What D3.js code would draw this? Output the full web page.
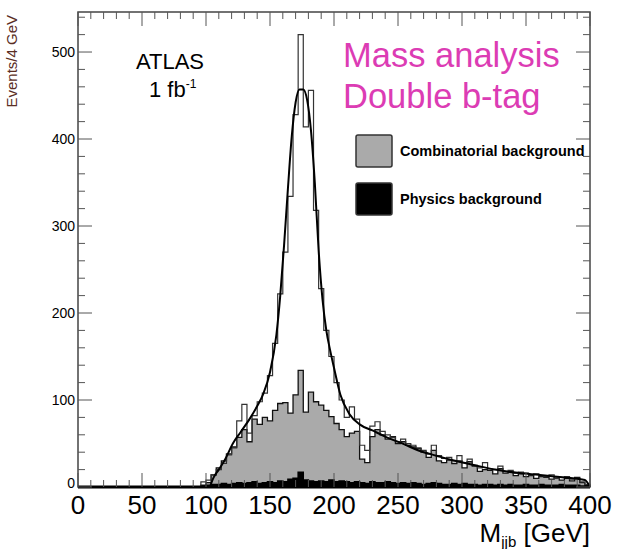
<!DOCTYPE html>
<html>
<head>
<meta charset="utf-8">
<script src="https://cdn.jsdelivr.net/npm/d3@7"></script>
<style>
  body { margin: 0; background: #fff; }
  svg { display: block; font-family: "Liberation Sans", Arial, sans-serif; }
</style>
</head>
<body>
<div class="wrapper"></div>
<script>
const width = 619;
const height = 549;

// bin lower edges (GeV), 4 GeV wide
const binEdges = d3.range(96, 400, 4);

// open histogram: signal + background
const totalCounts = [
  6, 8, 14, 20, 27, 37, 45, 76, 95, 62,
  82, 98, 108, 128, 165, 222, 270, 334, 428, 520,
  414, 456, 318, 228, 180, 150, 120, 100, 80, 92,
  78, 48, 42, 70, 75, 64, 60, 57, 52, 55,
  50, 48, 45, 42, 38, 48, 36, 33, 34, 30,
  36, 28, 32, 25, 22, 28, 21, 20, 24, 18,
  19, 16, 17, 16, 14, 15, 13, 12, 14, 10,
  11, 12, 9, 10, 6, 3
];

// grey filled: combinatorial background
const combCounts = [
  2, 5, 14, 22, 30, 38, 46, 57, 66, 52,
  78, 72, 80, 76, 88, 96, 97, 85, 106, 134,
  86, 109, 98, 94, 88, 81, 73, 66, 58, 62,
  64, 32, 28, 58, 66, 60, 55, 58, 50, 52,
  48, 46, 44, 40, 34, 42, 30, 28, 31, 27,
  30, 22, 29, 24, 18, 20, 19, 15, 21, 16,
  17, 13, 15, 12, 13, 10, 12, 11, 9, 12,
  8, 10, 7, 11, 5, 2
];

// black filled: physics background
const physCounts = [
  0, 2, 3, 3, 4, 3, 4, 5, 4, 5,
  6, 4, 5, 6, 5, 7, 6, 9, 10, 17,
  8, 7, 6, 7, 6, 8, 6, 7, 6, 5,
  6, 5, 4, 6, 5, 5, 6, 5, 4, 5,
  4, 5, 4, 3, 4, 5, 4, 3, 3, 4,
  3, 4, 3, 3, 2, 3, 3, 2, 3, 2,
  3, 2, 2, 3, 2, 2, 3, 2, 2, 2,
  3, 2, 2, 2, 1, 1
];

// fit curve
const fitMass = [103, 106, 110, 115, 121, 127, 134, 140, 145, 150, 155, 158, 161, 164, 167, 170, 173, 176, 179, 182, 185, 188, 191, 194, 197, 200, 205, 212, 220, 230, 240, 255, 266, 280, 292, 310, 326, 345, 360, 380, 396, 400];
const fitValue = [0, 11, 20, 32, 50, 63, 78, 93, 108, 132, 175, 220, 278, 343, 403, 442, 457, 457, 445, 410, 350, 272, 216, 180, 157, 137, 106, 84, 72, 65, 58, 49, 42, 36, 31, 25, 20, 16, 14, 11, 8, 0];

const xMajor = [0, 50, 100, 150, 200, 250, 300, 350, 400];
const yMajor = [0, 100, 200, 300, 400, 500];

const plotLeft = 78, plotRight = 590, plotTop = 12, plotBottom = 487;

const x = d3.scaleLinear().domain([0, 400]).range([plotLeft, plotRight]);
const y = d3.scaleLinear().domain([0, 546]).range([plotBottom, plotTop]);

const svg = d3.select(".wrapper")
  .append("svg")
  .attr("width", width)
  .attr("height", height);

// step path for a histogram
const histArea = (counts) => {
  const pts = [];
  pts.push([x(binEdges[0]), y(0)]);
  counts.forEach((c, i) => {
    pts.push([x(binEdges[i]), y(c)]);
    pts.push([x(binEdges[i] + 4), y(c)]);
  });
  pts.push([x(binEdges[binEdges.length - 1] + 4), y(0)]);
  return d3.line()(pts);
};

svg.append("path")
  .attr("d", histArea(combCounts))
  .attr("fill", "#aaaaaa")
  .attr("stroke", "#111")
  .attr("stroke-width", 1.3);

svg.append("path")
  .attr("d", histArea(totalCounts))
  .attr("fill", "none")
  .attr("stroke", "#333")
  .attr("stroke-width", 1.2);

svg.append("path")
  .attr("d", histArea(physCounts))
  .attr("fill", "#000")
  .attr("stroke", "#000")
  .attr("stroke-width", 1.5);

// fit line
svg.append("path")
  .datum(fitMass.map((m, i) => [m, fitValue[i]]))
  .attr("d", d3.line().x(d => x(d[0])).y(d => y(d[1])).curve(d3.curveMonotoneX))
  .attr("fill", "none")
  .attr("stroke", "#000")
  .attr("stroke-width", 2);

// frame
svg.append("rect")
  .attr("x", plotLeft).attr("y", plotTop)
  .attr("width", plotRight - plotLeft).attr("height", plotBottom - plotTop)
  .attr("fill", "none")
  .attr("stroke", "#444")
  .attr("stroke-width", 1.5);
svg.append("line")
  .attr("x1", plotLeft).attr("x2", plotRight)
  .attr("y1", plotBottom).attr("y2", plotBottom)
  .attr("stroke", "#000").attr("stroke-width", 3);

// ticks (inward, all four sides)
const tickColor = "#555";
const xTicks = d3.range(0, 401, 10);
svg.append("g").selectAll("line")
  .data(xTicks)
  .join("line")
  .attr("x1", d => x(d)).attr("x2", d => x(d))
  .attr("y1", plotBottom).attr("y2", d => plotBottom - (d % 50 === 0 ? 14 : 7))
  .attr("stroke", tickColor).attr("stroke-width", 1);
svg.append("g").selectAll("line")
  .data(xTicks)
  .join("line")
  .attr("x1", d => x(d)).attr("x2", d => x(d))
  .attr("y1", plotTop).attr("y2", d => plotTop + (d % 50 === 0 ? 14 : 7))
  .attr("stroke", tickColor).attr("stroke-width", 1);

const yTicks = d3.range(0, 541, 20);
svg.append("g").selectAll("line")
  .data(yTicks)
  .join("line")
  .attr("x1", plotLeft).attr("x2", d => plotLeft + (d % 100 === 0 ? 14 : 7))
  .attr("y1", d => y(d)).attr("y2", d => y(d))
  .attr("stroke", tickColor).attr("stroke-width", 1);
svg.append("g").selectAll("line")
  .data(yTicks)
  .join("line")
  .attr("x1", plotRight).attr("x2", d => plotRight - (d % 100 === 0 ? 14 : 7))
  .attr("y1", d => y(d)).attr("y2", d => y(d))
  .attr("stroke", tickColor).attr("stroke-width", 1);

// tick labels
svg.append("g").selectAll("text")
  .data(xMajor)
  .join("text")
  .attr("x", d => x(d))
  .attr("y", 514)
  .attr("text-anchor", "middle")
  .attr("font-size", 26)
  .text(d => d);

svg.append("g").selectAll("text")
  .data(yMajor)
  .join("text")
  .attr("x", 75)
  .attr("y", d => y(d) + (d === 0 ? 1 : 5))
  .attr("text-anchor", "end")
  .attr("font-size", 14)
  .text(d => d);

// axis titles
svg.append("text")
  .attr("transform", "translate(17,15) rotate(-90)")
  .attr("text-anchor", "end")
  .attr("font-size", 15)
  .attr("fill", "#5a2e24")
  .text("Events/4 GeV");

const xt = svg.append("text")
  .attr("x", 590).attr("y", 542)
  .attr("text-anchor", "end")
  .attr("font-size", 26);
xt.append("tspan").text("M");
xt.append("tspan").attr("font-size", 15).attr("dy", 5).text("jjb");
xt.append("tspan").attr("dy", -5).text(" [GeV]");

// ATLAS label
svg.append("text")
  .attr("x", 170).attr("y", 69)
  .attr("text-anchor", "middle")
  .attr("font-size", 22)
  .text("ATLAS");
const lum = svg.append("text")
  .attr("x", 149).attr("y", 97)
  .attr("font-size", 22);
lum.append("tspan").text("1 fb");
lum.append("tspan").attr("font-size", 12).attr("dy", -9).text("-1");

// magenta annotation
svg.append("text")
  .attr("x", 343).attr("y", 67)
  .attr("font-size", 34.5)
  .attr("fill", "#dc3cb4")
  .text("Mass analysis");
svg.append("text")
  .attr("x", 343).attr("y", 108)
  .attr("font-size", 34.5)
  .attr("fill", "#dc3cb4")
  .text("Double b-tag");

// legend
const legendItems = ["Combinatorial background", "Physics background"];
const legendFill = ["#aaaaaa", "#000"];
const lg = svg.append("g").selectAll("g")
  .data(legendItems)
  .join("g")
  .attr("transform", (d, i) => `translate(356,${135 + i * 48})`);
lg.append("rect")
  .attr("width", 36).attr("height", 32)
  .attr("rx", 2)
  .attr("fill", (d, i) => legendFill[i])
  .attr("stroke", "#333").attr("stroke-width", 1.5);
lg.append("text")
  .attr("x", 44).attr("y", 21)
  .attr("font-size", 14.5)
  .attr("font-weight", "bold")
  .text(d => d);
</script>
</body>
</html>
